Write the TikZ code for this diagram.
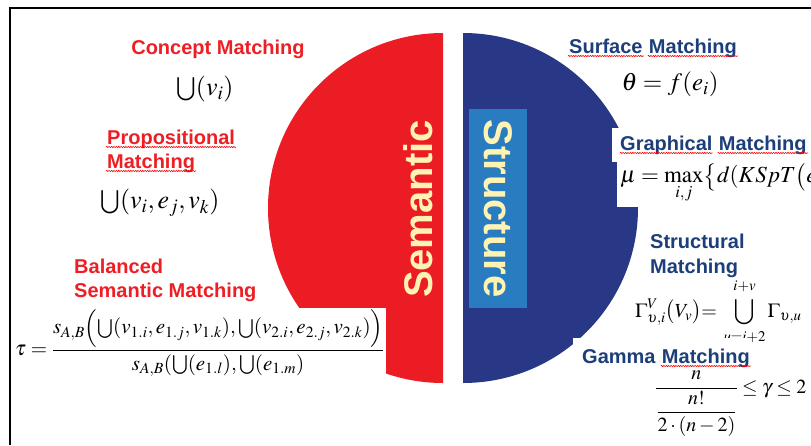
\documentclass[tikz,border=0pt]{standalone}
\usepackage{amsmath}
\usepackage{mathptmx}
\usepackage[no-math]{fontspec}
\setmainfont{Liberation Serif}
\newfontfamily\arialfont{Liberation Sans}
\usetikzlibrary{positioning,decorations.pathmorphing}
\definecolor{semRed}{RGB}{236,28,36}
\definecolor{strBlue}{RGB}{40,56,135}
\definecolor{strSky}{RGB}{42,124,192}
\definecolor{creamText}{RGB}{255,243,180}
\definecolor{lblRed}{RGB}{237,30,36}
\definecolor{lblBlue}{RGB}{28,62,122}

\begin{document}
\begin{tikzpicture}[x=1pt,y=-1pt,
  rlbl/.style={font=\arialfont\bfseries\fontsize{20}{25}\selectfont,text=lblRed,inner sep=1pt},
  blbl/.style={font=\arialfont\bfseries\fontsize{20}{25}\selectfont,text=lblBlue,inner sep=1pt},
  frm/.style={font=\fontsize{#1}{#1}\selectfont,inner sep=1pt},
  frm/.default=22,
  wavy/.style={draw=red,line width=0.6pt,decorate,
               decoration={snake,amplitude=0.6pt,segment length=2.4pt}},
  halfword/.style={font=\arialfont\bfseries\fontsize{40}{40}\selectfont,text=creamText}
]
\useasboundingbox (0,0) rectangle (811,445);
\draw[line width=1.4pt] (10,445) -- (10,8) -- (811,8);

% the two halves
\begin{scope}
  \clip (250,20) rectangle (443,400);
  \fill[semRed] (443,208) circle[radius=175pt];
\end{scope}
\begin{scope}
  \clip (463,20) rectangle (660,400);
  \fill[strBlue] (463,208) circle[radius=175pt];
\end{scope}
\node[halfword,rotate=90] (sem) at (418,209) {Semantic};
\node[halfword,fill=strSky,rotate=-90,minimum width=199pt,minimum height=58pt,
      inner sep=0pt] (str) at (498,208.5) {Structure};

% semantic side
\node[rlbl,anchor=base] (concept) at (218,54) {Concept Matching};
\node[frm=26] (cupv) at (205,89) {$\bigcup(v_i)$};
\node[rlbl,anchor=base west] (prop1) at (106,144) {Propositional};
\node[rlbl,anchor=base west] (prop2) at (106,168) {Matching};
\node[frm=26] (cupvev) at (160,203) {$\bigcup(v_i,e_j,v_k)$};
\node[rlbl,anchor=base west] (bal1) at (73,273) {Balanced};
\node[rlbl,anchor=base west] (bal2) at (73,297) {Semantic Matching};
\node[frm=21,fill=white,inner sep=2pt,anchor=west]
  (tau) at (13,343)
  {$\boldsymbol{\tau}=\dfrac{s_{A,B}\Bigl(\bigcup(v_{1.i},e_{1.j},v_{1.k}),\bigcup(v_{2.i},e_{2.j},v_{2.k})\Bigr)}
                {s_{A,B}(\bigcup(e_{1.l}),\bigcup(e_{1.m})}$};

% structure side
\node[blbl,anchor=base west] (surf) at (568,53) {Surface};
\node[blbl,base right=4pt of surf] (surfm) {Matching};
\node[frm=25] (theta) at (670,84) {$\theta=f(e_i)$};
\node[blbl,anchor=base west,fill=white,inner xsep=8pt,inner ysep=8pt]
  (graph) at (612,150) {Graphical};
\node[blbl,base right=-3pt of graph.base east,anchor=base west] (graphm) {Matching};
\node[frm=23,fill=white,inner sep=3pt,anchor=north west] (mu) at (617,160)
  {$\mu=\max\limits_{i,j}\bigl\{d(KSpT\bigl(e_{i,j}\bigr)$};
\node[blbl,anchor=base west] (struc1) at (649,248) {Structural};
\node[blbl,anchor=base west] (struc2) at (649,273) {Matching};
\node[frm=20,anchor=west] (gam) at (634,312)
  {$\displaystyle\Gamma^{V}_{\upsilon,i}\bigl(V_v\bigr){=}\;
    \bigcup_{\rule{0pt}{12pt}u=i+2}^{i+v\rule[-5pt]{0pt}{0pt}}\Gamma_{\upsilon,u}$};
\node[blbl,anchor=base west,fill=white,inner xsep=9pt,inner ysep=11pt]
  (gamma) at (573,363) {Gamma};
\node[blbl,base right=-4pt of gamma.base east,anchor=base west,fill=white,
      inner ysep=11pt] (gammam) {Matching};
\node[frm=20,anchor=base west] (ineq) at (654,393)
  {$\dfrac{n}{\rule{0pt}{24pt}\dfrac{n!}{2\cdot(n-2)}}\le\gamma\le 2$};

% spelling marks
\foreach \w in {prop1,prop2,surf,surfm,graphm,gammam}
  \draw[wavy] ([yshift=-3pt]\w.base west) -- ([yshift=-3pt]\w.base east);
\draw[wavy] ([xshift=8pt,yshift=-3pt]graph.base west) -- ([xshift=-8pt,yshift=-3pt]graph.base east);
\end{tikzpicture}
\end{document}
